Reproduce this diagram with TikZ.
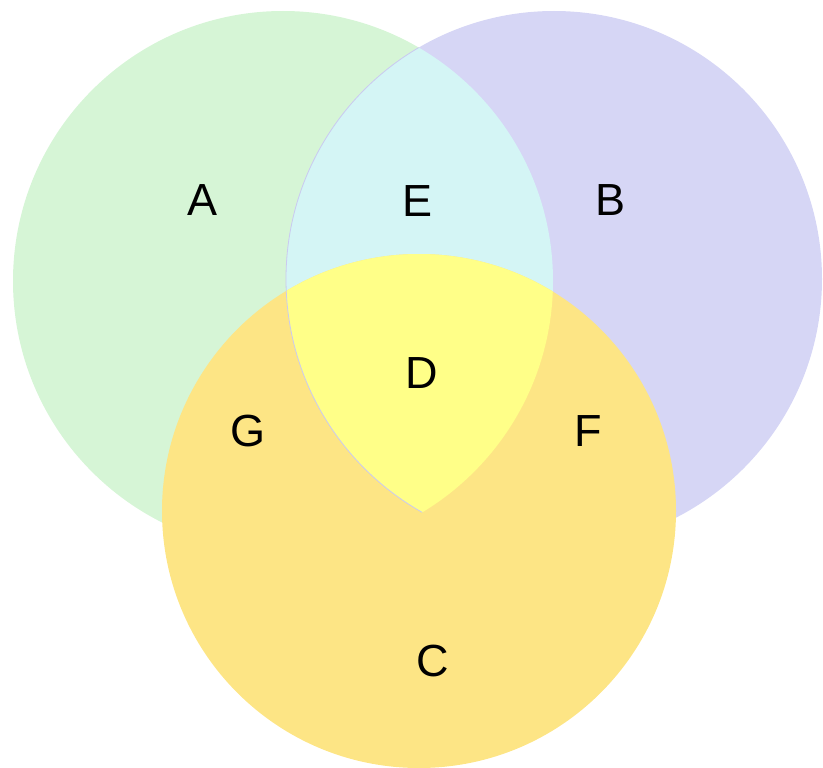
\documentclass[tikz,border=0pt]{standalone}
\usepackage{fontspec}
\setmainfont{Liberation Sans}
\begin{document}
\begin{tikzpicture}[x=1pt,y=-1pt,
  lab/.style={anchor=base,inner sep=0pt,font=\fontsize{45}{45}\selectfont},
  edgeline/.style={line width=0.8pt}]
\definecolor{cA}{HTML}{D6F5D6}
\definecolor{cB}{HTML}{D6D6F5}
\definecolor{cE}{HTML}{D4F5F5}
\definecolor{cC}{HTML}{FDE585}
\definecolor{cD}{HTML}{FFFF88}
\definecolor{lB}{HTML}{CACAF0}
\definecolor{lC}{HTML}{F8D8B0}
\useasboundingbox (0,0) rectangle (823,768);
\coordinate (ca) at (283,281);
\coordinate (cb) at (554,279);
\coordinate (cc) at (419,511);
\fill[cA] (ca) circle (270);
\fill[cB] (cb) circle (268);
\begin{scope}
  \clip (ca) circle (270);
  \fill[cE] (cb) circle (268);
\end{scope}
\fill[cC] (cc) circle (257);
\begin{scope}
  \clip (ca) circle (270);
  \clip (cb) circle (268);
  \fill[cD] (cc) circle (257);
\end{scope}
\begin{scope}
  \clip (ca) circle (270);
  \draw[lB,edgeline] (cb) circle (268);
\end{scope}
\node[lab] (A) at (203,215) {A};
\node[lab] (E) at (418,216) {E};
\node[lab] (B) at (611,215) {B};
\node[lab] (D) at (422,388) {D};
\node[lab] (G) at (248,446) {G};
\node[lab] (F) at (588,446) {F};
\node[lab] (C) at (433,676) {C};
\end{tikzpicture}
\end{document}
